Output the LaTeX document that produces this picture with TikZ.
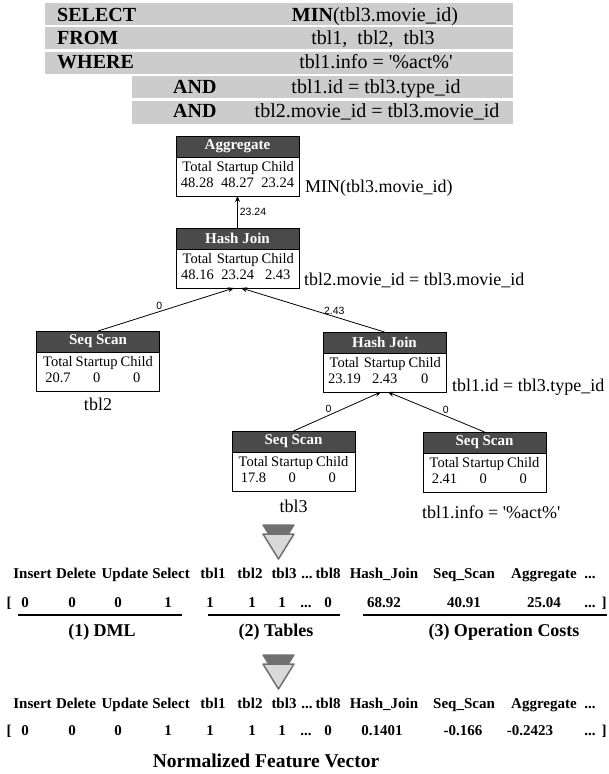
\documentclass[tikz,border=0pt]{standalone}
\usepackage{fontspec}
\setmainfont{Liberation Serif}
\setsansfont{Liberation Sans}
\usetikzlibrary{arrows.meta, positioning}

\definecolor{sqlgray}{HTML}{CCCCCC}
\definecolor{hdrgray}{HTML}{4A4A4A}
\definecolor{icondark}{HTML}{707070}
\definecolor{iconlight}{HTML}{D9D9D9}

% cost table inside an operator box
\newcommand{\costs}[3]{%
  \begin{tabular}{@{}c@{\hspace{3pt}}c@{\hspace{3pt}}c@{}}
    Total & Startup & Child\\
    #1 & #2 & #3
  \end{tabular}}
\newcommand{\skipdots}{...}

\begin{document}
\begin{tikzpicture}[
    x=1pt, y=-1pt, >={Stealth[length=6pt,width=5pt]},
    kw/.style={anchor=base west, inner sep=0pt,
               font=\fontsize{20}{22}\selectfont\bfseries},
    sqlval/.style={anchor=base, inner sep=0pt,
               font=\fontsize{20}{22}\selectfont},
    ophdr/.style={draw, fill=hdrgray, text=white, anchor=north,
               font=\fontsize{15}{17}\selectfont\bfseries,
               minimum width=123pt, minimum height=21pt,
               inner sep=0pt, outer sep=0pt, line width=1pt},
    opbody/.style={draw, fill=white, below=0pt of #1,
               font=\fontsize{14.5}{16}\selectfont,
               minimum width=123pt, minimum height=39pt,
               inner sep=0pt, outer sep=0pt, line width=1pt},
    cost/.style={font=\sffamily\fontsize{10.5}{12}\selectfont, inner sep=2pt},
    note/.style={inner sep=0pt, font=\fontsize{18}{20}\selectfont},
    colhd/.style={anchor=base, inner sep=0pt,
               font=\fontsize{15}{17}\selectfont\bfseries},
    grp/.style={anchor=base, inner sep=0pt,
               font=\fontsize{18}{20}\selectfont\bfseries}
  ]
  \useasboundingbox (0,0) rectangle (608,774);

  % SQL query
  \foreach \t/\b in {3/25, 27/49, 52/74}
    \fill[sqlgray] (45,\t) rectangle (513,\b);
  \foreach \t/\b in {76/98, 101/124}
    \fill[sqlgray] (132,\t) rectangle (513,\b);
  \node[kw] (select) at (57,21) {SELECT};
  \node[kw] (from) at (57,44) {FROM};
  \node[kw] (where) at (57,68) {WHERE};
  \node[kw] (and1) at (173,93) {AND};
  \node[kw] (and2) at (173,117.5) {AND};
  \node[sqlval] (selectv) at (375,21) {\textbf{MIN}(tbl3.movie\_id)};
  \node[sqlval] (fromv) at (373,44) {tbl1,\enspace tbl2,\enspace tbl3};
  \node[sqlval] (wherev) at (376,68) {tbl1.info = \textquotesingle\%act\%\textquotesingle};
  \node[sqlval] (and1v) at (376,93) {tbl1.id = tbl3.type\_id};
  \node[sqlval] (and2v) at (377,117.5) {tbl2.movie\_id = tbl3.movie\_id};

  % plan tree
  \node[ophdr] (agg) at (237.5,136) {Aggregate};
  \node[opbody=agg] (aggc) {\costs{48.28}{48.27}{23.24}};
  \node[ophdr] (hj) at (237.5,228) {Hash Join};
  \node[opbody=hj] (hjc) {\costs{48.16}{23.24}{2.43}};
  \node[ophdr] (scan2) at (98,331) {Seq Scan};
  \node[opbody=scan2] (scan2c) {\costs{20.7}{0}{0}};
  \node[ophdr] (hjb) at (384.5,332) {Hash Join};
  \node[opbody=hjb] (hjbc) {\costs{23.19}{2.43}{0}};
  \node[ophdr] (scan3) at (293.5,431) {Seq Scan};
  \node[opbody=scan3] (scan3c) {\costs{17.8}{0}{0}};
  \node[ophdr] (scan1) at (484.5,432) {Seq Scan};
  \node[opbody=scan1] (scan1c) {\costs{2.41}{0}{0}};

  \draw[->, line width=0.8pt] (hj.north) -- node[cost, right] {23.24} (aggc.south);
  \draw[->, line width=0.8pt] (scan2.north)
    -- node[cost, above, pos=0.45] {0} ([xshift=-3.5pt]hjc.south);
  \draw[->, line width=0.8pt] (hjb.north)
    -- node[cost, above, pos=0.35] {2.43} ([xshift=3.5pt]hjc.south);
  \draw[->, line width=0.8pt] (scan3.north)
    -- node[cost, above, pos=0.4] {0} ([xshift=-3.5pt]hjbc.south);
  \draw[->, line width=0.8pt] (scan1.north)
    -- node[cost, above, pos=0.4] {0} ([xshift=3.5pt]hjbc.south);

  \node[note, anchor=base west] (aggnote) at (305,192) {MIN(tbl3.movie\_id)};
  \node[note, anchor=base west] (hjnote) at (304,285) {tbl2.movie\_id = tbl3.movie\_id};
  \node[note, anchor=base west] (hjbnote) at (452,391) {tbl1.id = tbl3.type\_id};
  \node[note, anchor=base west] (scan1note) at (422,518)
    {tbl1.info = \textquotesingle\%act\%\textquotesingle};
  \node[note, anchor=base] (scan2note) at (98,410) {tbl2};
  \node[note, anchor=base] (scan3note) at (293.5,512) {tbl3};

  % down arrows
  \foreach \dy in {0,130} {
    \filldraw[fill=icondark, draw=icondark, line width=1.2pt, line join=round]
      (263,525+\dy) -- (294,525+\dy) -- (278.5,550+\dy) -- cycle;
    \filldraw[fill=iconlight, draw=icondark, line width=1.5pt, line join=round]
      (263,534+\dy) -- (294,534+\dy) -- (278.5,559+\dy) -- cycle;
  }

  % feature vectors
  \foreach \x/\w [count=\i] in {32.5/Insert, 76/Delete, 125/Update, 171/Select,
      213/tbl1, 250/tbl2, 284/tbl3, 307/\skipdots, 328/tbl8, 384/Hash\_Join,
      464/Seq\_Scan, 544/Aggregate, 590/\skipdots} {
    \node[colhd] (rawhd\i) at (\x,578) {\w};
    \node[colhd] (normhd\i) at (\x,708) {\w};
  }
  \foreach \x/\v [count=\i] in {9/{[}, 25/0, 72/0, 118/0, 168/1, 210/1, 252/1,
      282/1, 306/\skipdots, 328/0, 384/68.92, 464/40.91, 544/25.04,
      590/\skipdots, 604/{]}}
    \node[colhd] (raw\i) at (\x,607) {\v};
  \foreach \x/\v [count=\i] in {9/{[}, 25/0, 72/0, 118/0, 168/1, 210/1, 252/1,
      282/1, 306/\skipdots, 328/0, 382/0.1401, 463/-0.166, 530/-0.2423,
      590/\skipdots, 604/{]}}
    \node[colhd] (norm\i) at (\x,735) {\v};

  \draw[line width=1.3pt] (18,615) -- (182,615);
  \draw[line width=1.3pt] (208,615) -- (340,615);
  \draw[line width=1.3pt] (363,615) -- (607,615);
  \node[grp] (dml) at (102,636) {(1) DML};
  \node[grp] (tables) at (276,636) {(2) Tables};
  \node[grp] (opcosts) at (504,636) {(3) Operation Costs};
  \node[grp, font=\fontsize{19.5}{21}\selectfont\bfseries] (normvec)
    at (266,767) {Normalized Feature Vector};
\end{tikzpicture}
\end{document}
